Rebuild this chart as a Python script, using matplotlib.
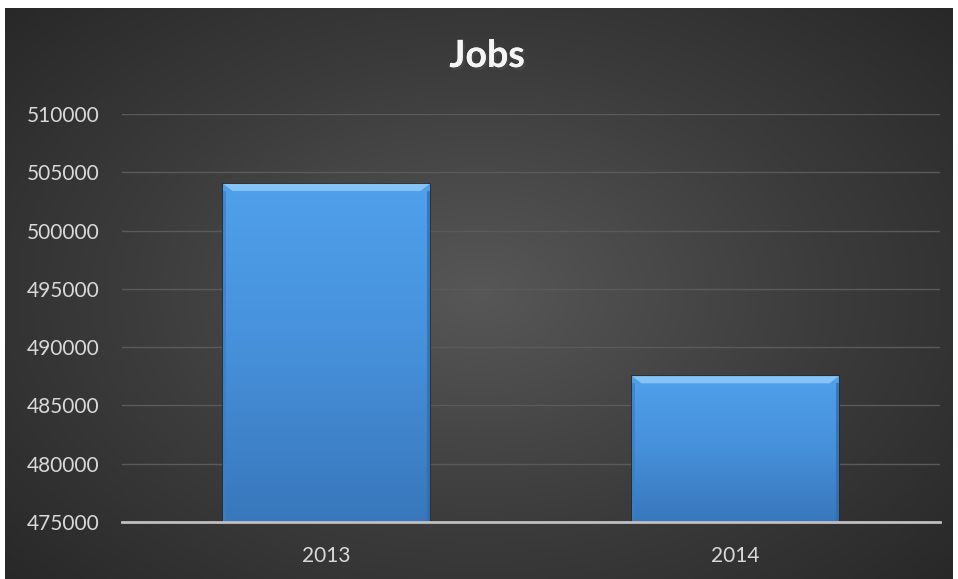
import numpy as np
import matplotlib
matplotlib.use("Agg")
import matplotlib.pyplot as plt
import matplotlib.patheffects as pe
from matplotlib.colors import LinearSegmentedColormap
from matplotlib.patches import Polygon

categories = ["2013", "2014"]
values = [504000, 487500]
title = "Jobs"
y_ticks = [475000, 480000, 485000, 490000, 495000, 500000, 505000, 510000]

plt.rcParams['font.family'] = ['Lato', 'DejaVu Sans']

W, H = 958, 579
fig = plt.figure(figsize=(W / 100, H / 100), dpi=100)
fig.patch.set_facecolor("white")

# background panel with radial gradient
bg = fig.add_axes([5 / W, 0, (953 - 5) / W, (579 - 8) / H])
bg.set_axis_off()
yy, xx = np.mgrid[-1:1:300j, -1:1:500j]
r = np.sqrt(xx ** 2 + (yy * 0.9) ** 2)
bgcmap = LinearSegmentedColormap.from_list("bg", ["#575757", "#3c3c3c", "#252525"])
bg.imshow(r, cmap=bgcmap, vmin=0, vmax=1.45, aspect="auto", extent=[0, 1, 0, 1])
bg.set_xlim(0, 1)
bg.set_ylim(0, 1)

ax = fig.add_axes([122 / W, 1 - 522 / H, (940 - 122) / W, (522 - 114) / H])
ax.set_facecolor("none")
x = np.arange(len(categories))
ax.set_yticks(y_ticks)
ax.set_yticklabels([str(t) for t in y_ticks])
ax.set_xticks(x)
ax.set_xticklabels(categories)
ax.yaxis.grid(True, color="#5a5a5a", linewidth=1)
ax.set_axisbelow(True)
for s in ["top", "right", "left"]:
    ax.spines[s].set_visible(False)
ax.spines["bottom"].set_color("#bfbfbf")
ax.spines["bottom"].set_linewidth(2)
ax.spines["bottom"].set_zorder(6)
ax.tick_params(axis="both", length=0, colors="#d9d9d9", labelsize=15)
ax.tick_params(axis="y", pad=16)
ax.tick_params(axis="x", pad=17)

bar_cmap = LinearSegmentedColormap.from_list("bar", ["#3877bb", "#4690da", "#50a0eb"])
width = 0.504
bars = ax.bar(x, values, width=width, bottom=0, color="#4a96df", zorder=2,
              edgecolor="#2b2b2b", linewidth=1.2)
px_x = 1.0 / 409
px_y = 5000 / 58.3
for b, v in zip(bars, values):
    x0 = b.get_x()
    w = b.get_width()
    grad = np.linspace(0, 1, 256).reshape(-1, 1)
    im = ax.imshow(grad, cmap=bar_cmap, origin="lower", aspect="auto",
                   extent=[x0, x0 + w, y_ticks[0], v], zorder=3)
    im.set_clip_path(b)
    # bevel highlight at top (trapezoid)
    bev = Polygon([[x0, v], [x0 + w, v], [x0 + w - 9 * px_x, v - 7 * px_y],
                   [x0 + 9 * px_x, v - 7 * px_y]], closed=True,
                  facecolor="#86c4f6", edgecolor="none", zorder=4)
    ax.add_patch(bev)
    # side shading
    ax.fill_between([x0, x0 + 3 * px_x], y_ticks[0], v - 7 * px_y, color="#3a7fc6", alpha=0.7, zorder=4, linewidth=0)
    ax.fill_between([x0 + w - 3 * px_x, x0 + w], y_ticks[0], v - 7 * px_y, color="#2f6aa8", alpha=0.7, zorder=4, linewidth=0)
ax.set_xlim(-0.5, len(categories) - 0.5)
ax.set_ylim(y_ticks[0], y_ticks[-1])

fig.text(487 / W, 1 - 56 / H, title, ha="center", va="center", color="#f5f5f5",
         fontsize=27, fontweight="bold",
         path_effects=[pe.withSimplePatchShadow(offset=(1.5, -2), alpha=0.7), pe.Normal()])

fig.savefig("out.png", dpi=100, facecolor=fig.get_facecolor())
